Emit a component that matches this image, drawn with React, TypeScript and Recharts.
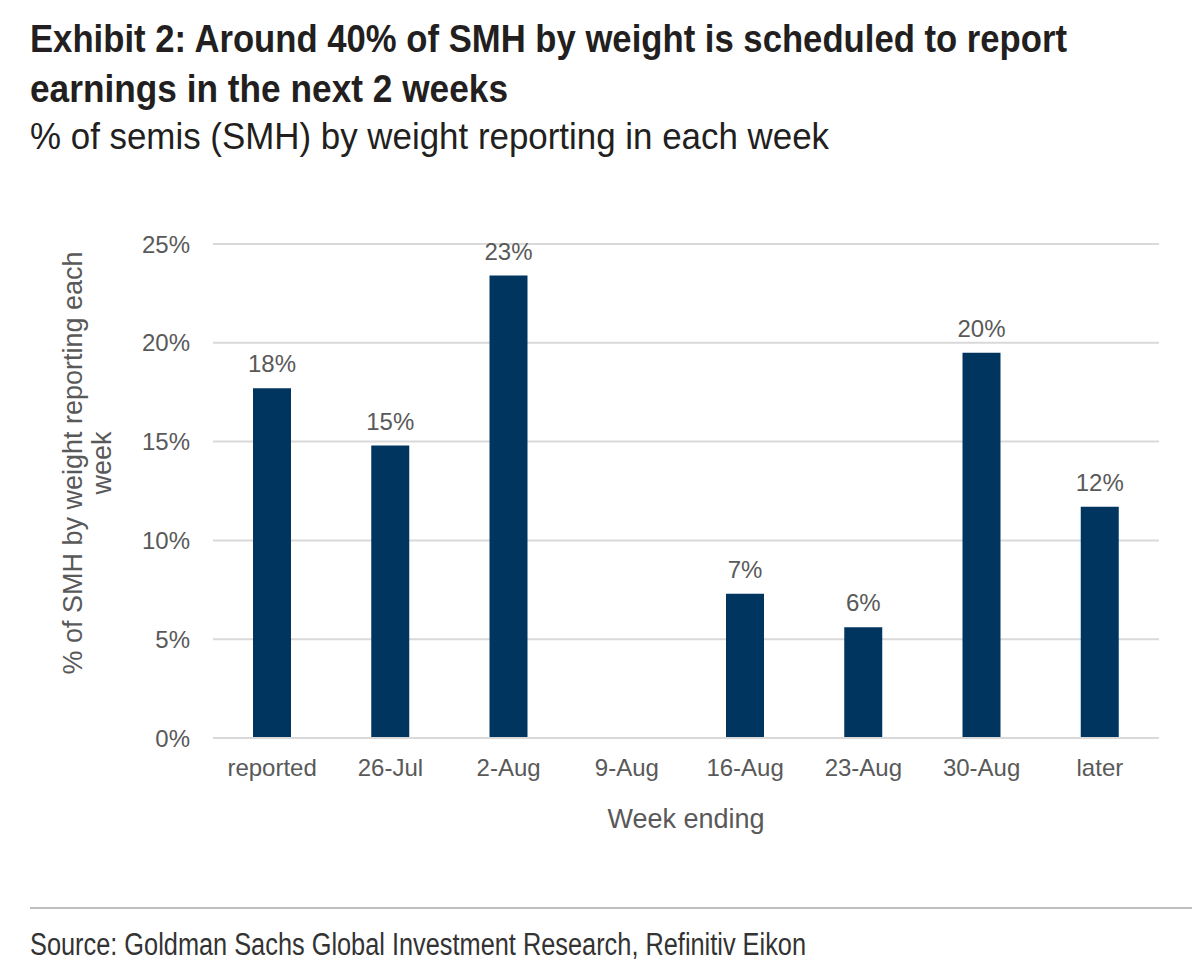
import { Bar, BarChart, CartesianGrid, LabelList, XAxis, YAxis } from 'recharts';

const weeks = ['reported', '26-Jul', '2-Aug', '9-Aug', '16-Aug', '23-Aug', '30-Aug', 'later'];
const weightPct = [17.7, 14.8, 23.4, 0, 7.3, 5.6, 19.5, 11.7];
const yTicks = [0, 5, 10, 15, 20, 25];

const data = weeks.map((week, i) => ({ week, pct: weightPct[i] }));

const NAVY = '#00355f';
const GREY_TEXT = '#595959';
const ARIAL = '"Liberation Sans", Arial, sans-serif';

function YTitle({ viewBox }: any) {
  // sits a little above the plot's middle
  const cy = viewBox.y + viewBox.height / 2 - 28;
  return (
    <text transform={`rotate(-90, 88, ${cy})`} x={88} y={cy} textAnchor="middle" fill={GREY_TEXT} fontSize={27} fontFamily={ARIAL}>
      <tspan x={88} dy={-6}>% of SMH by weight reporting each</tspan>
      <tspan x={88} dy={29}>week</tspan>
    </text>
  );
}

const fmtLabel = (v: any) => (v ? `${Math.round(v)}%` : '');

// condensed headline type: squeeze Arial into the measured line widths
function Headline() {
  return (
    <svg width={1200} height={976} style={{ position: 'absolute', left: 0, top: 0, pointerEvents: 'none' }}>
      <g fontFamily={ARIAL} fill="#231f20">
        <text x={30} y={52} fontSize={39} fontWeight={700} textLength={1037} lengthAdjust="spacingAndGlyphs">
          Exhibit 2: Around 40% of SMH by weight is scheduled to report
        </text>
        <text x={30} y={102} fontSize={39} fontWeight={700} textLength={478} lengthAdjust="spacingAndGlyphs">
          earnings in the next 2 weeks
        </text>
        <text x={30} y={149} fontSize={37} textLength={799} lengthAdjust="spacingAndGlyphs">
          % of semis (SMH) by weight reporting in each week
        </text>
      </g>
      <line x1={30} x2={1192} y1={908} y2={908} stroke="#bfbfbf" strokeWidth={2} />
      <text x={30} y={955} fontFamily={ARIAL} fontSize={31} fill="#333" textLength={776} lengthAdjust="spacingAndGlyphs">
        Source: Goldman Sachs Global Investment Research, Refinitiv Eikon
      </text>
    </svg>
  );
}

export default function App() {
  return (
    <div style={{ position: 'absolute', left: 0, top: 0, width: 1200, height: 976, background: '#fff', overflow: 'hidden' }}>
      <div style={{ position: 'absolute', left: 0, top: 0 }}>
        <BarChart width={1200} height={976} data={data} margin={{ top: 244, right: 41, bottom: 138, left: 0 }} barCategoryGap={0}>
          <CartesianGrid vertical={false} stroke="#d9d9d9" strokeWidth={2} />
          <XAxis
            dataKey="week"
            height={100}
            axisLine={{ stroke: '#d9d9d9', strokeWidth: 2 }}
            tickLine={false}
            tickMargin={15}
            tick={{ fill: GREY_TEXT, fontSize: 24, fontFamily: ARIAL }}
            label={{ value: 'Week ending', position: 'insideTop', offset: 71, fill: GREY_TEXT, fontSize: 27, fontFamily: ARIAL }}
          />
          <YAxis
            width={213}
            domain={[0, 25]}
            ticks={yTicks}
            interval={0}
            axisLine={false}
            tickLine={false}
            tickMargin={17}
            tickFormatter={(v) => `${v}%`}
            tick={{ fill: GREY_TEXT, fontSize: 24, fontFamily: ARIAL }}
            label={<YTitle />}
          />
          <Bar dataKey="pct" fill={NAVY} barSize={38} isAnimationActive={false}>
            <LabelList dataKey="pct" position="top" offset={16} formatter={fmtLabel} fill={GREY_TEXT} fontSize={24} fontFamily={ARIAL} />
          </Bar>
        </BarChart>
      </div>
      <Headline />
    </div>
  );
}
